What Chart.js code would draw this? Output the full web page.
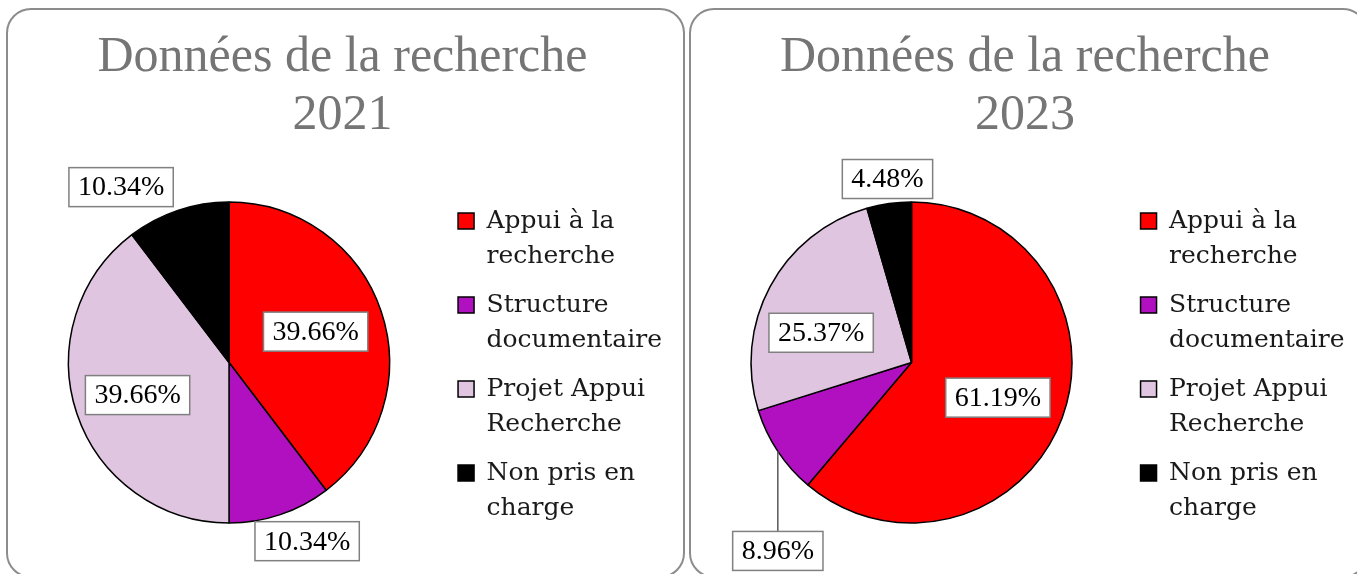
<!DOCTYPE html>
<html>
<head>
<meta charset="utf-8">
<script src="https://cdn.jsdelivr.net/npm/chart.js@4.4.1/dist/chart.umd.min.js"></script>
<style>
  html, body { margin:0; padding:0; background:#fff; overflow:hidden; width:1357px; height:574px; position:relative; }
  .panel { position:absolute; top:8px; width:679px; height:570px; border:2px solid #8c8c8c; border-radius:25px; box-sizing:border-box; background:#fff; }
  canvas { position:absolute; top:0; }
</style>
</head>
<body>
<div class="panel" style="left:6px"></div>
<div class="panel" style="left:689px"></div>
<canvas id="c1" width="685" height="574" style="left:0px"></canvas>
<canvas id="c2" width="672" height="574" style="left:685px"></canvas>
<script>
// ---- data ----
const categories = ["Appui à la recherche", "Structure documentaire", "Projet Appui Recherche", "Non pris en charge"];
const values2021 = [39.66, 10.34, 39.66, 10.34];
const values2023 = [61.19, 8.96, 25.37, 4.48];
const title2021 = ["Données de la recherche", "2021"];
const title2023 = ["Données de la recherche", "2023"];

// ---- styles ----
const sliceColors = ['#FF0000', '#B010BF', '#E0C5E0', '#000000'];
const legendFont = { family: "'DejaVu Serif', serif", size: 25, lineHeight: 1.42 };
const legendWrapWidth = 180;

function wrapText(text, fontStr, maxW) {
  const ctx = document.createElement('canvas').getContext('2d');
  ctx.font = fontStr;
  const words = text.split(' ');
  const lines = [];
  let cur = '';
  words.forEach(w => {
    const test = cur ? cur + ' ' + w : w;
    if (cur && ctx.measureText(test).width > maxW) { lines.push(cur); cur = w; }
    else cur = test;
  });
  if (cur) lines.push(cur);
  return lines;
}

function makeLabelPlugin(place) {
  return {
    id: 'sliceLabels',
    afterDatasetsDraw(chart) {
      const meta = chart.getDatasetMeta(0);
      const data = chart.data.datasets[0].data;
      const total = data.reduce((a, b) => a + b, 0);
      const ctx = chart.ctx;
      ctx.save();
      ctx.font = "28px 'Liberation Serif', serif";
      meta.data.forEach((arc, i) => {
        const p = place[i];
        const { x, y, startAngle, endAngle, outerRadius } =
          arc.getProps(['x', 'y', 'startAngle', 'endAngle', 'outerRadius'], true);
        const mid = (startAngle + endAngle) / 2;
        const text = (data[i] / total * 100).toFixed(2) + '%';
        const w = ctx.measureText(text).width + 18;
        const h = 39;
        let lx, ly;
        if (p.leader) {
          const ex = x + outerRadius * Math.cos(mid);
          const ey = y + outerRadius * Math.sin(mid);
          lx = ex; ly = y + p.dyf * outerRadius;
          ctx.strokeStyle = '#595959'; ctx.lineWidth = 1.5;
          ctx.beginPath(); ctx.moveTo(ex, ey); ctx.lineTo(lx, ly - h / 2); ctx.stroke();
        } else {
          const a = mid + p.da * Math.PI / 180;
          lx = x + p.rf * outerRadius * Math.cos(a);
          ly = y + p.rf * outerRadius * Math.sin(a);
        }
        ctx.fillStyle = '#ffffff';
        ctx.fillRect(lx - w / 2, ly - h / 2, w, h);
        ctx.strokeStyle = '#808080'; ctx.lineWidth = 1.5;
        ctx.strokeRect(lx - w / 2, ly - h / 2, w, h);
        ctx.fillStyle = '#000000';
        ctx.textAlign = 'center'; ctx.textBaseline = 'middle';
        ctx.fillText(text, lx, ly + 1);
      });
      ctx.restore();
    }
  };
}

function makeChart(id, values, titleLines, padding, place) {
  const legendFontStr = legendFont.size + "px " + legendFont.family;
  return new Chart(document.getElementById(id), {
    type: 'pie',
    data: {
      labels: categories,
      datasets: [{
        data: values,
        backgroundColor: sliceColors,
        borderColor: '#000000',
        borderWidth: 1.5,
        radius: 160.5,
        hoverOffset: 0,
        clip: false
      }]
    },
    options: {
      responsive: false,
      animation: false,
      events: [],
      layout: { padding: padding },
      plugins: {
        title: {
          display: true,
          text: titleLines,
          color: '#757575',
          font: { family: "'Liberation Serif', serif", size: 50, weight: 'normal', lineHeight: 1.16 },
          padding: { top: 29, bottom: 15 }
        },
        legend: {
          display: true,
          position: 'right',
          fullSize: false,
          align: 'center',
          title: { display: true, text: ' ', font: { size: 1, lineHeight: 1 }, padding: { top: 14, bottom: 0 } },
          labels: {
            color: '#1a1a1a',
            font: legendFont,
            boxWidth: 16,
            boxHeight: 16,
            padding: 13,
            generateLabels(chart) {
              const items = Chart.overrides.doughnut.plugins.legend.labels.generateLabels(chart);
              items.forEach(it => { it.text = wrapText(it.text, legendFontStr, legendWrapWidth); });
              return items;
            }
          }
        },
        tooltip: { enabled: false }
      }
    },
    plugins: [makeLabelPlugin(place)]
  });
}

// label placement (radius fraction / angle offset in degrees, or leader line)
const place2021 = [{ rf: 0.573, da: -1 }, { rf: 1.215, da: -5 }, { rf: 0.605, da: -1 }, { rf: 1.283, da: -13 }];
const place2023 = [{ rf: 0.581, da: 2 }, { leader: true, dyf: 1.174 }, { rf: 0.593, da: -10 }, { rf: 1.153, da: 0.6 }];

makeChart('c1', values2021, title2021, { left: 13, right: 13, top: 0, bottom: 9 }, place2021);
makeChart('c2', values2023, title2023, { left: 10.5, right: 2.5, top: 0, bottom: 9 }, place2023);
</script>
</body>
</html>
